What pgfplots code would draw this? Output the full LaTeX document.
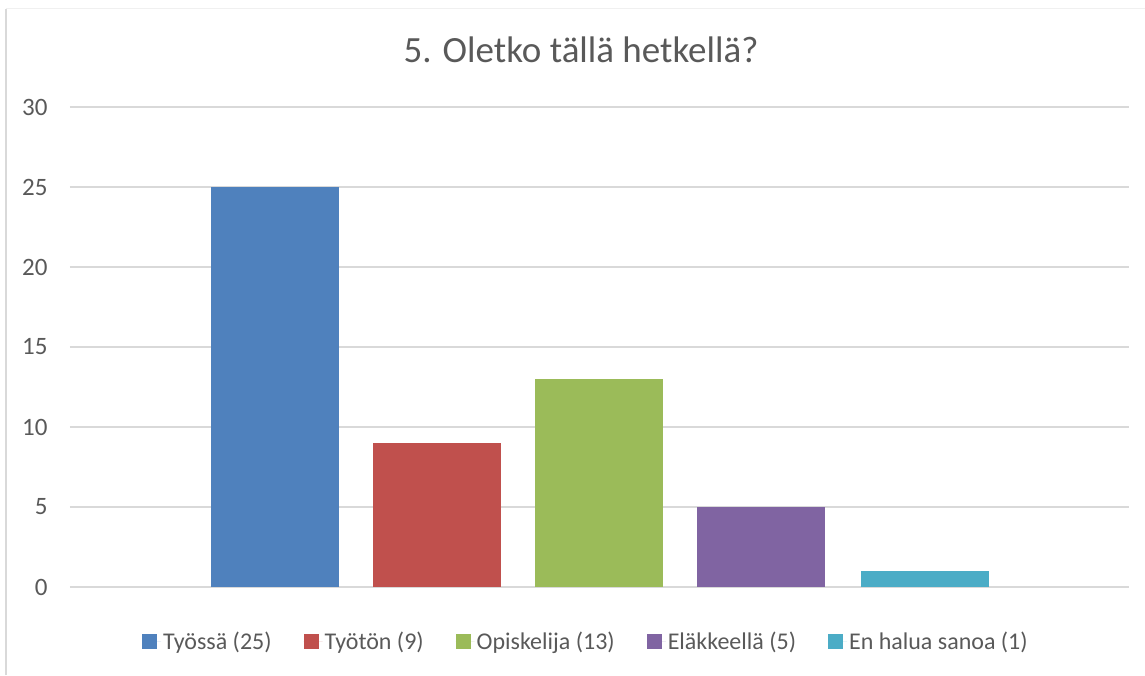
\documentclass[border=0pt]{standalone}
\usepackage{pgfplots}
\pgfplotsset{compat=1.18}
\usepackage{fontspec}
\setmainfont{Carlito}
\definecolor{txt}{HTML}{595959}
\definecolor{gridc}{HTML}{D9D9D9}
\definecolor{c1}{HTML}{4F81BD}
\definecolor{c2}{HTML}{C0504D}
\definecolor{c3}{HTML}{9BBB59}
\definecolor{c4}{HTML}{8064A2}
\definecolor{c5}{HTML}{4BACC6}
\begin{document}
\begin{tikzpicture}
\useasboundingbox (0,0) rectangle (1145pt,675pt);
\draw[gridc, line width=2pt] (6pt,0pt) -- (6pt,666pt);
\draw[black!6, line width=1pt] (6pt,666pt) -- (1145pt,666pt);
\node[txt, font=\fontsize{37}{40}\selectfont, anchor=base] at (581pt,612pt) {5. Oletko tällä hetkellä?};
\begin{axis}[
  at={(70pt,88pt)}, anchor=south west,
  scale only axis, width=1059pt, height=480pt,
  xmin=70, xmax=1129, ymin=0, ymax=30,
  ytick={0,5,...,30}, xtick=\empty,
  axis line style={draw=none},
  major tick length=0pt,
  ymajorgrids, grid style={gridc, line width=1.6pt},
  /pgf/number format/assume math mode=true,
  tick label style={txt, font=\fontsize{25}{28}\selectfont},
  y tick label style={xshift=-19pt},
  ybar, bar width=128, bar shift=0pt,
  legend columns=5,
  legend style={draw=none, fill=none, at={(516pt,-54pt)}, anchor=center,
    font=\fontsize{24}{28}\selectfont, text=txt,
    /tikz/every even column/.append style={column sep=30pt},
    inner sep=0pt},
  legend image code/.code={\fill[#1] (0pt,-7.5pt) rectangle (15pt,7.5pt); \path (0pt,0pt) -- (19pt,0pt);},
]
\addplot[fill=c1, draw=none] coordinates {(275,25)};
\addlegendentry{Työssä (25)}
\addplot[fill=c2, draw=none] coordinates {(437,9)};
\addlegendentry{Työtön (9)}
\addplot[fill=c3, draw=none] coordinates {(599,13)};
\addlegendentry{Opiskelija (13)}
\addplot[fill=c4, draw=none] coordinates {(761,5)};
\addlegendentry{Eläkkeellä (5)}
\addplot[fill=c5, draw=none] coordinates {(925,1)};
\addlegendentry{En halua sanoa (1)}
\end{axis}
\end{tikzpicture}
\end{document}
